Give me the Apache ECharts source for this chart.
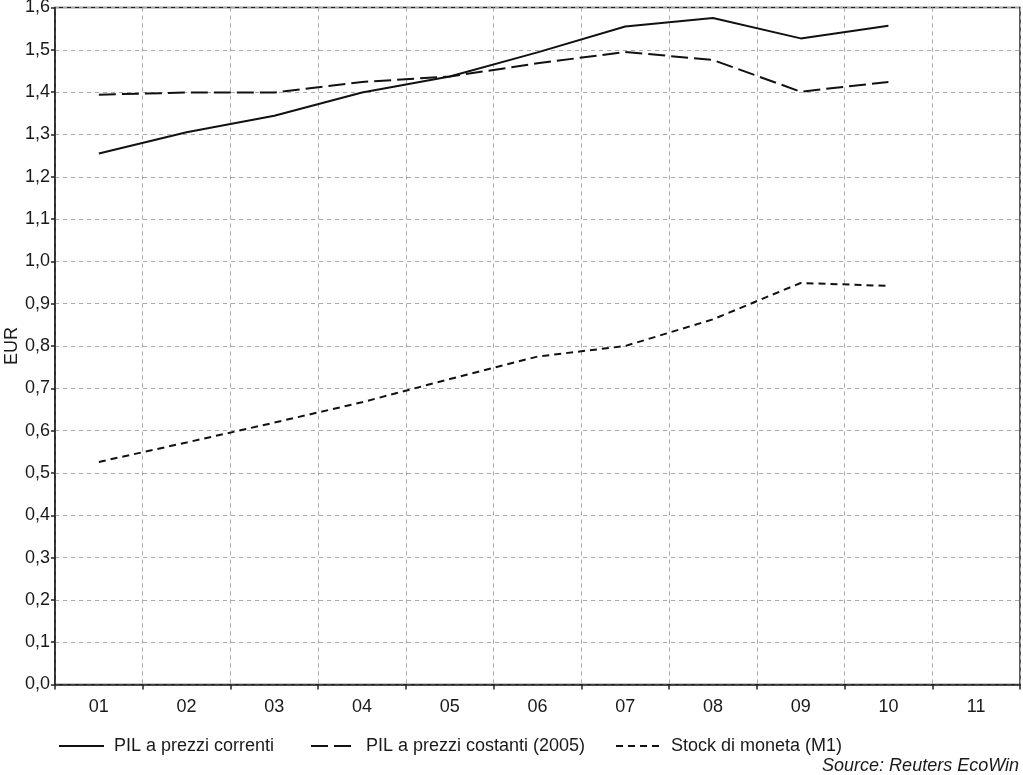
<!DOCTYPE html>
<html>
<head>
<meta charset="utf-8">
<script src="https://cdn.jsdelivr.net/npm/echarts@6/dist/echarts.min.js"></script>
<style>
html,body{margin:0;padding:0;background:#fff;}
#chart{width:1023px;height:775px;}
</style>
</head>
<body>
<div id="chart"></div>
<script>
const categories = ['01','02','03','04','05','06','07','08','09','10','11'];
const pilCorrenti = [1.255, 1.305, 1.344, 1.399, 1.437, 1.494, 1.555, 1.575, 1.527, 1.557, null];
const pilCostanti = [1.394, 1.399, 1.399, 1.424, 1.437, 1.468, 1.495, 1.476, 1.401, 1.424, null];
const stockM1 = [0.526, 0.572, 0.619, 0.667, 0.722, 0.775, 0.800, 0.863, 0.949, 0.942, null];
const seriesNames = ['PIL a prezzi correnti', 'PIL a prezzi costanti (2005)', 'Stock di moneta (M1)'];
const yAxisName = 'EUR';
const sourceText = 'Source: Reuters EcoWin';

const FONT = 'Liberation Sans, Arial, sans-serif';
const FS = 18;
const TXT = '#1a1a1a';
const chart = echarts.init(document.getElementById('chart'), null, {renderer: 'canvas'});

function legendFor(name, left) {
  return {
    data: [name], left: left, top: 737, itemWidth: 45, itemHeight: 16, itemGap: 0, padding: 0,
    itemStyle: {color: 'rgba(0,0,0,0)', borderColor: 'rgba(0,0,0,0)', borderWidth: 0, opacity: 0},
    textStyle: {fontFamily: FONT, fontSize: FS, color: TXT, padding: [0, 0, 0, 5]}
  };
}

chart.setOption({
  animation: false,
  backgroundColor: '#fff',
  grid: {left: 55, right: 3, top: 7.5, bottom: 90.5, show: true, borderColor: '#222', borderWidth: 1.5,
    backgroundColor: 'transparent', containLabel: false, outerBoundsMode: 'none'},
  title: {
    text: sourceText, right: 4, bottom: 0, padding: 0,
    textStyle: {fontFamily: FONT, fontSize: FS, fontStyle: 'italic', fontWeight: 'normal', color: TXT}
  },
  legend: [legendFor(seriesNames[0], 58), legendFor(seriesNames[1], 310), legendFor(seriesNames[2], 615)],
  xAxis: {
    type: 'category', data: categories, boundaryGap: true,
    axisLine: {show: true, lineStyle: {color: '#222', width: 1.5}},
    axisTick: {show: true, length: 5, lineStyle: {color: '#222', width: 1.5}},
    axisLabel: {fontFamily: FONT, fontSize: FS, color: TXT, margin: 14},
    splitLine: {show: true, lineStyle: {color: '#aaa', width: 1, type: [4, 4]}}
  },
  yAxis: {
    type: 'value', min: 0, max: 1.6, interval: 0.1,
    name: yAxisName, nameLocation: 'middle', nameGap: 34, nameMoveOverlap: false,
    nameTextStyle: {fontFamily: FONT, fontSize: FS, color: TXT},
    axisLine: {show: true, lineStyle: {color: '#222', width: 1.5}},
    axisTick: {show: true, length: 4, lineStyle: {color: '#222', width: 1.5}},
    axisLabel: {fontFamily: FONT, fontSize: FS, color: TXT, margin: 5,
      formatter: v => v.toFixed(1).replace('.', ',')},
    splitLine: {show: true, lineStyle: {color: '#aaa', width: 1, type: [4, 4]}}
  },
  series: [
    {name: seriesNames[0], type: 'line', data: pilCorrenti, symbol: 'none', showSymbol: false,
      lineStyle: {color: '#111', width: 2, type: 'solid'}, itemStyle: {color: '#111'}},
    {name: seriesNames[1], type: 'line', data: pilCostanti, symbol: 'none', showSymbol: false,
      lineStyle: {color: '#111', width: 2, type: [17, 6]}, itemStyle: {color: '#111'}},
    {name: seriesNames[2], type: 'line', data: stockM1, symbol: 'none', showSymbol: false,
      lineStyle: {color: '#111', width: 2, type: [7, 5]}, itemStyle: {color: '#111'}}
  ]
});
</script>
</body>
</html>
